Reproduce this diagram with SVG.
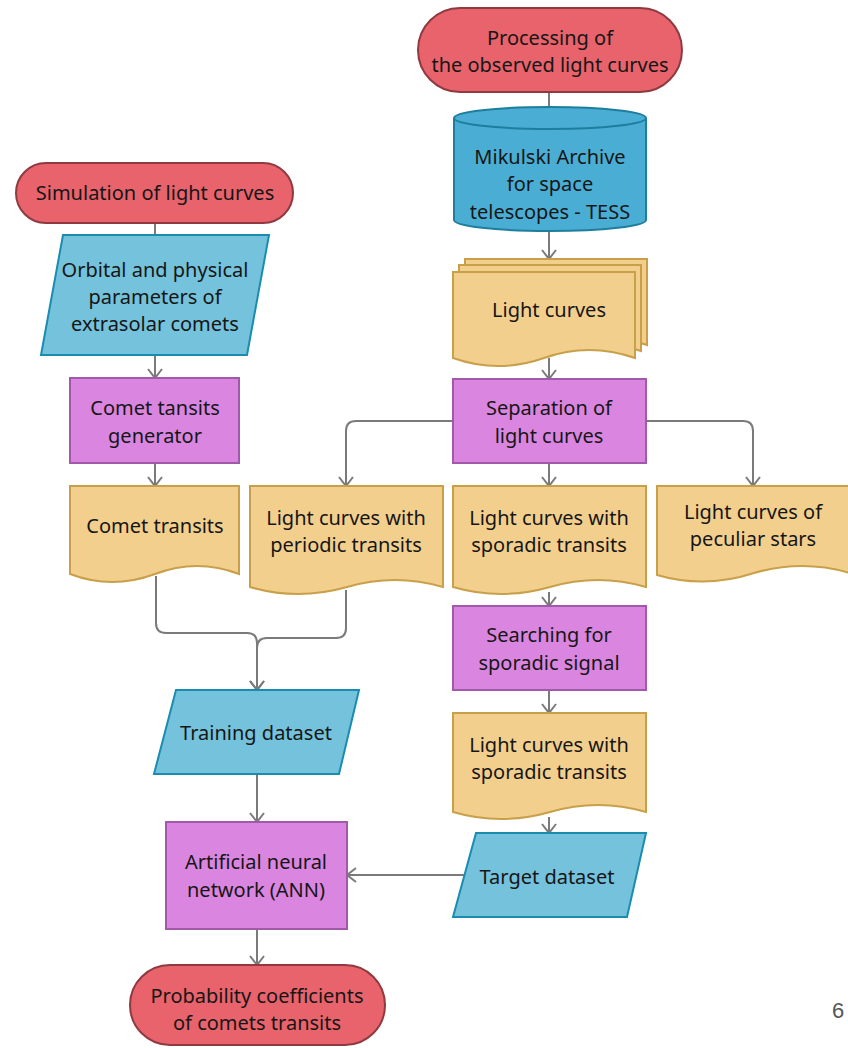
<svg xmlns="http://www.w3.org/2000/svg" width="848" height="1048" viewBox="0 0 848 1048">
<defs>
<marker id="arr" viewBox="0 0 16 16" refX="14" refY="8" markerWidth="16" markerHeight="16" markerUnits="userSpaceOnUse" orient="auto">
<path d="M5,1 L14,8 L5,15" fill="none" stroke="#7a7a7a" stroke-width="2"/>
</marker>
<style>
.term{fill:#E8636B;stroke:#8E3A40;stroke-width:2}
.db{fill:#4AAED4;stroke:#1D7E9D;stroke-width:2}
.io{fill:#74C2DB;stroke:#1A8DAE;stroke-width:2}
.proc{fill:#DA86E0;stroke:#A259A9;stroke-width:2}
.doc{fill:#F3CF8E;stroke:#C9A04A;stroke-width:2}
.c{fill:none;stroke:#7a7a7a;stroke-width:2}
.a{marker-end:url(#arr)}
text{font-family:"Noto Sans","Open Sans","DejaVu Sans",sans-serif;font-size:20px;fill:#161616;text-anchor:middle}
</style>
</defs>
<rect width="848" height="1048" fill="#ffffff"/>

<g id="connectors">
<path class="c" d="M549,92 V107"/>
<path class="c a" d="M549,230 V259"/>
<path class="c a" d="M549,358 V379"/>
<path class="c" d="M155,223 V235"/>
<path class="c a" d="M155,355 V378"/>
<path class="c a" d="M155,463 V486"/>
<path class="c a" d="M453,421 H356 Q346,421 346,431 V486"/>
<path class="c a" d="M646,421 H743 Q753,421 753,431 V486"/>
<path class="c a" d="M549,463 V486"/>
<path class="c a" d="M156,576 V623 Q156,633 166,633 H247 Q257,633 257,643 V690"/>
<path class="c a" d="M346,590 V628 Q346,638 336,638 H267 Q257,638 257,648 V690"/>
<path class="c a" d="M549,592 V606"/>
<path class="c a" d="M549,690 V713"/>
<path class="c a" d="M549,817 V833"/>
<path class="c a" d="M257,774 V822"/>
<path class="c a" d="M464,875 H347"/>
<path class="c a" d="M257,929 V965"/>
</g>

<g id="processing">
<rect class="term" x="418" y="8" width="264" height="84" rx="42"/>
<text x="550" y="45">Processing of</text>
<text x="550" y="72">the observed light curves</text>
</g>

<g id="mast">
<path class="db" d="M454,118 A96,11 0 0 1 646,118 V220 A96,11 0 0 1 454,220 Z"/>
<path class="db" d="M454,118 A96,11 0 0 0 646,118"/>
<text x="550" y="164">Mikulski Archive</text>
<text x="550" y="191">for space</text>
<text x="550" y="219">telescopes - TESS</text>
</g>

<g id="lightcurves">
<path class="doc" d="M465,259 H647 V345 Q601,329 556,345 Q510,361 465,345 Z"/>
<path class="doc" d="M459,265 H641 V351 Q595,335 550,351 Q504,367 459,351 Z"/>
<path class="doc" d="M453,272 H635 V358 Q589,342 544,358 Q498,374 453,358 Z"/>
<text x="549" y="317">Light curves</text>
</g>

<g id="separation">
<rect class="proc" x="453" y="379" width="193" height="84"/>
<text x="549" y="415">Separation of</text>
<text x="549" y="443">light curves</text>
</g>

<g id="simulation">
<rect class="term" x="16" y="163" width="277" height="60" rx="30"/>
<text x="155" y="200">Simulation of light curves</text>
</g>

<g id="orbital">
<path class="io" d="M63,235 H269 L247,355 H41 Z"/>
<text x="155" y="277">Orbital and physical</text>
<text x="155" y="304">parameters of</text>
<text x="155" y="331">extrasolar comets</text>
</g>

<g id="generator">
<rect class="proc" x="70" y="378" width="169" height="85"/>
<text x="155" y="415">Comet tansits</text>
<text x="155" y="443">generator</text>
</g>

<g id="comettransits">
<path class="doc" d="M70,486 H239 V574 Q197,558 155,574 Q112,590 70,574 Z"/>
<text x="155" y="533">Comet transits</text>
</g>

<g id="periodic">
<path class="doc" d="M250,486 H443 V587 Q395,573 347,587 Q298,601 250,587 Z"/>
<text x="346" y="525">Light curves with</text>
<text x="346" y="552">periodic transits</text>
</g>

<g id="sporadic1">
<path class="doc" d="M453,486 H646 V587 Q598,573 550,587 Q501,601 453,587 Z"/>
<text x="549" y="525">Light curves with</text>
<text x="549" y="552">sporadic transits</text>
</g>

<g id="peculiar">
<path class="doc" d="M657,486 H850 V573 Q802,559 754,573 Q705,589 657,575 Z"/>
<text x="753" y="519">Light curves of</text>
<text x="753" y="546">peculiar stars</text>
</g>

<g id="searching">
<rect class="proc" x="453" y="606" width="193" height="84"/>
<text x="549" y="642">Searching for</text>
<text x="549" y="670">sporadic signal</text>
</g>

<g id="sporadic2">
<path class="doc" d="M453,713 H646 V812 Q598,798 550,812 Q501,826 453,812 Z"/>
<text x="549" y="752">Light curves with</text>
<text x="549" y="779">sporadic transits</text>
</g>

<g id="target">
<path class="io" d="M476,833 H646 L627,917 H453 Z"/>
<text x="547" y="884">Target dataset</text>
</g>

<g id="training">
<path class="io" d="M176,690 H359 L339,774 H154 Z"/>
<text x="256" y="740">Training dataset</text>
</g>

<g id="ann">
<rect class="proc" x="166" y="822" width="181" height="107"/>
<text x="256" y="869">Artificial neural</text>
<text x="256" y="897">network (ANN)</text>
</g>

<g id="probability">
<rect class="term" x="130" y="965" width="255" height="80" rx="40"/>
<text x="257" y="1003">Probability coefficients</text>
<text x="257" y="1030">of comets transits</text>
</g>

<text x="838" y="1018" style="font-family:'Liberation Sans',Arial,sans-serif;font-size:22px;fill:#555555">6</text>
</svg>
